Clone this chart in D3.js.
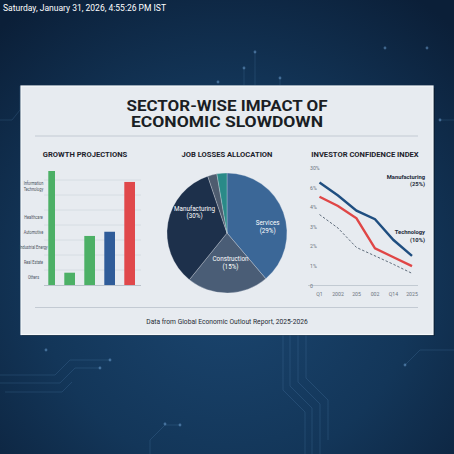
<!DOCTYPE html>
<html><head><meta charset="utf-8">
<script src="https://cdn.jsdelivr.net/npm/d3@7"></script>
<style>html,body{margin:0;padding:0;background:#0f2a48;overflow:hidden}svg{display:block}</style>
</head><body><svg id="c" width="454" height="454"></svg>
<script>
// ---------- DATA ----------
const dateText = "Saturday, January 31, 2026, 4:55:26 PM IST";
const chartTitle = ["SECTOR-WISE IMPACT OF", "ECONOMIC SLOWDOWN"];
const footerText = "Data from Global Economic Outlout Report, 2025-2026";

const barTitle = "GROWTH PROJECTIONS";
const barCategoryLabels = [["Information","Technology"],["Healthcare"],["Automotive"],["Industrial Energy"],["Real Estate"],["Others"]];
const barCategoryLevels = [6.6, 4.5, 3.5, 2.5, 1.5, 0.5];
const barKeys = ["b1","b2","b3","b4","b5"];
const barValues = [7.6, 0.82, 3.27, 3.55, 6.87];
const barGroups = ["green","green","green","blue","red"];
const barGridValues = [1,2,3,4,5,6,7];

const pieTitle = "JOB LOSSES ALLOCATION";
const pieSectors = ["Services","Construction","Manufacturing","Other","Energy"];
const pieValues = [38.8, 22.0, 34.0, 2.5, 2.7];
const pieLabels = [["Services","(29%)"],["Construction","(15%)"],["Manufacturing","(30%)"],[],[]];

const lineTitle = "INVESTOR CONFIDENCE INDEX";
const lineXLabels = ["Q1","2002","205","002","Q14","2025"];
const lineYLabels = ["0","1%","2%","3%","4%","6%","30%"];
const manufacturingValues = [5.26, 4.59, 3.82, 3.38, 2.32, 1.51];
const technologyValues = [4.53, 4.06, 3.43, 1.90, 1.44, 0.99];
const baselineValues = [3.62, 2.93, 1.94, 1.51, 1.08, 0.62];
const lineAnnotations = [["Manufacturing","(25%)"],["Technology","(10%)"]];

// ---------- STYLES ----------
const FONT = "Roboto, 'Liberation Sans', Arial, sans-serif";
const barColor = {green:"#4cb066", blue:"#2f5c99", red:"#e0484b"};
const pieColors = ["#3b6797","#4a5d76","#1d304b","#4e5c6f","#2a8a88"];
const pieLabelNudge = [[5,7],[3,-8],[5,-14],[0,0],[0,0]];
const titleWidths = [201, 192];

const svg = d3.select("#c");
const W = 454, H = 454;

// ---------- BACKGROUND ----------
const defs = svg.append("defs");
const bg = defs.append("radialGradient").attr("id","bg").attr("cx","0.5").attr("cy","0.62").attr("r","0.75");
bg.append("stop").attr("offset","0").attr("stop-color","#1b4670");
bg.append("stop").attr("offset","0.55").attr("stop-color","#133659");
bg.append("stop").attr("offset","1").attr("stop-color","#0b1f38");
svg.append("rect").attr("width",W).attr("height",H).attr("fill","url(#bg)");

const deco = svg.append("g").attr("fill","none").attr("stroke","#6fa3d6").attr("stroke-opacity",0.22).attr("stroke-width",0.8);
const decoPaths = [
  "M255,85 L255,52","M244,85 L244,68","M280,85 L280,78",
  "M0,375 L55,375 L70,360 L110,360","M0,383 L60,383 L75,368 L100,368","M5,392 L62,392 L72,382",
  "M283,334 L283,390 L305,412 L305,454","M290,334 L290,386 L312,408 L312,454","M298,334 L298,382 L320,404 L320,454","M306,334 L306,378 L328,400 L328,440",
  "M454,350 L420,350 L405,365","M150,454 L150,440 L165,425 L180,425",
  "M0,120 L12,120 L20,110 L20,86","M440,120 L454,120"
];
deco.selectAll("path").data(decoPaths).join("path").attr("d",d=>d);
const dots = [[255,52],[244,68],[280,78],[218,82],[110,360],[100,368],[405,365],[180,425],[165,424],[46,350],[385,48],[427,48],[440,120],[300,300]];
svg.append("g").selectAll("circle").data(dots).join("circle")
  .attr("cx",d=>d[0]).attr("cy",d=>d[1]).attr("r",1.4).attr("fill","#7fb4e6").attr("fill-opacity",0.45);

// date
svg.append("text").attr("x",3).attr("y",11).attr("fill","#ffffff").attr("font-family",FONT)
  .attr("font-size",9.6).attr("textLength",163).attr("lengthAdjust","spacingAndGlyphs").text(dateText);

// ---------- CARD ----------
svg.append("rect").attr("x",22).attr("y",88).attr("width",413).attr("height",248).attr("fill","#000").attr("opacity",0.25);
svg.append("rect").attr("x",21).attr("y",86).attr("width",412).attr("height",248.5)
  .attr("fill","#e7ebf0").attr("stroke","#f6f8fb").attr("stroke-width",1.2);

svg.append("g").selectAll("text").data(chartTitle).join("text")
  .attr("x",227).attr("y",(d,i)=>110.5+i*16.2).attr("text-anchor","middle").attr("font-family",FONT).attr("font-weight","bold")
  .attr("font-size",14.2).attr("fill","#1a1e24")
  .attr("textLength",(d,i)=>titleWidths[i]).attr("lengthAdjust","spacingAndGlyphs").text(d=>d);

svg.append("line").attr("x1",35).attr("x2",418).attr("y1",136).attr("y2",136).attr("stroke","#c3cad3").attr("stroke-width",1);
svg.append("line").attr("x1",35).attr("x2",418).attr("y1",307.5).attr("y2",307.5).attr("stroke","#c3cad3").attr("stroke-width",1);
svg.append("text").attr("x",227).attr("y",324).attr("text-anchor","middle").attr("font-family",FONT)
  .attr("font-size",6.7).attr("fill","#262c35").text(footerText);

function sectionTitle(x, t){
  svg.append("text").attr("x",x).attr("y",157).attr("text-anchor","middle").attr("font-family",FONT)
    .attr("font-weight","bold").attr("font-size",7.6).attr("fill","#1c222b").text(t);
}
sectionTitle(85, barTitle);
sectionTitle(227, pieTitle);
sectionTitle(365, lineTitle);

// ---------- BAR CHART ----------
const by = d3.scaleLinear().domain([0,8]).range([285,165]);
const bx = d3.scaleBand().domain(barKeys).range([44.3,135]).paddingInner(0.465).paddingOuter(0);
const bg1 = svg.append("g");
bg1.selectAll("line.grid").data(barGridValues).join("line").attr("class","grid")
  .attr("x1",44).attr("x2",141).attr("y1",d=>by(d)).attr("y2",d=>by(d)).attr("stroke","#d3d9e0").attr("stroke-width",0.8);
defs.append("clipPath").attr("id","barclip").append("rect").attr("x",48.3).attr("y",140).attr("width",100).attr("height",150);
bg1.append("g").attr("clip-path","url(#barclip)").selectAll("rect").data(barValues).join("rect")
  .attr("x",(d,i)=>bx(barKeys[i])).attr("width",bx.bandwidth())
  .attr("y",d=>by(d)).attr("height",d=>by(0)-by(d)).attr("fill",(d,i)=>barColor[barGroups[i]]);
bg1.append("line").attr("x1",44).attr("x2",141).attr("y1",by(0)+0.5).attr("y2",by(0)+0.5).attr("stroke","#b9c1ca").attr("stroke-width",1);
const squeeze = 0.76, labelCx = 33.5;
const catG = bg1.append("g").attr("transform",`scale(${squeeze},1)`);
const catText = catG.selectAll("text.cat").data(barCategoryLabels).join("text").attr("class","cat")
  .attr("text-anchor","middle").attr("font-family",FONT).attr("font-size",5.0).attr("fill","#4a525c");
catText.each(function(lines,i){
  const t = d3.select(this);
  const yc = by(barCategoryLevels[i]);
  lines.forEach((s,j)=>{
    t.append("tspan").attr("x",labelCx/squeeze).attr("y",yc + 2 + (j-(lines.length-1)/2)*6.2).text(s);
  });
});

// ---------- PIE ----------
const cx = 227, cy = 233, R = 60;
const pie = d3.pie().sort(null).value(d=>d)(pieValues);
const arc = d3.arc().innerRadius(0).outerRadius(R);
const labelArc = d3.arc().innerRadius(38).outerRadius(38);
const pg = svg.append("g").attr("transform",`translate(${cx},${cy})`);
pg.selectAll("path").data(pie).join("path").attr("d",arc).attr("fill",(d,i)=>pieColors[i])
  .attr("stroke","#e8ecf1").attr("stroke-width",0.3);
pg.selectAll("text").data(pie).join("text").attr("text-anchor","middle").attr("font-family",FONT)
  .attr("font-size",6.3).attr("fill","#ffffff")
  .each(function(d,i){
    const [x,y] = labelArc.centroid(d);
    const n = pieLabelNudge[i];
    const lines = pieLabels[i];
    lines.forEach((s,j)=>{
      d3.select(this).append("tspan").attr("x",x+n[0]).attr("y",y+n[1]+(j-0.5)*7.5+2).text(s);
    });
  });

// ---------- LINE CHART ----------
const ly = d3.scaleLinear().domain([0,6]).range([285.5,167.9]);
const lx = d3.scalePoint().domain(lineXLabels).range([319.5,412]);
const lg = svg.append("g");
lg.append("line").attr("x1",308).attr("x2",418).attr("y1",285.5).attr("y2",285.5).attr("stroke","#b9c1ca").attr("stroke-width",0.8);
lg.selectAll("text.yl").data(lineYLabels).join("text").attr("class","yl")
  .attr("x",310).attr("y",(d,i)=>ly(i)+2).attr("font-family",FONT).attr("font-size",5.2).attr("fill","#6d7580").text(d=>d);
lg.selectAll("text.xl").data(lineXLabels).join("text").attr("class","xl")
  .attr("x",d=>lx(d)).attr("y",296).attr("text-anchor","middle").attr("font-family",FONT).attr("font-size",5.2).attr("fill","#6d7580").text(d=>d);
const line = d3.line().x((d,i)=>lx(lineXLabels[i])).y(d=>ly(d));
lg.append("path").datum(baselineValues).attr("d",line).attr("fill","none").attr("stroke","#3e4c5e").attr("stroke-width",0.8).attr("stroke-dasharray","2.5,1.8");
lg.append("path").datum(technologyValues).attr("d",line).attr("fill","none").attr("stroke","#e04646").attr("stroke-width",2.4);
lg.append("path").datum(manufacturingValues).attr("d",line).attr("fill","none").attr("stroke","#1f4e80").attr("stroke-width",2.4);
const annY = [178.5, 234];
lineAnnotations.forEach((lines,k)=>{
  const t = lg.append("text").attr("text-anchor","end").attr("font-family",FONT).attr("font-size",5.8)
    .attr("font-weight","bold").attr("fill","#1e2a3a");
  lines.forEach((s,j)=>t.append("tspan").attr("x",425).attr("y",annY[k]+j*7.5).text(s));
});
</script></body></html>
